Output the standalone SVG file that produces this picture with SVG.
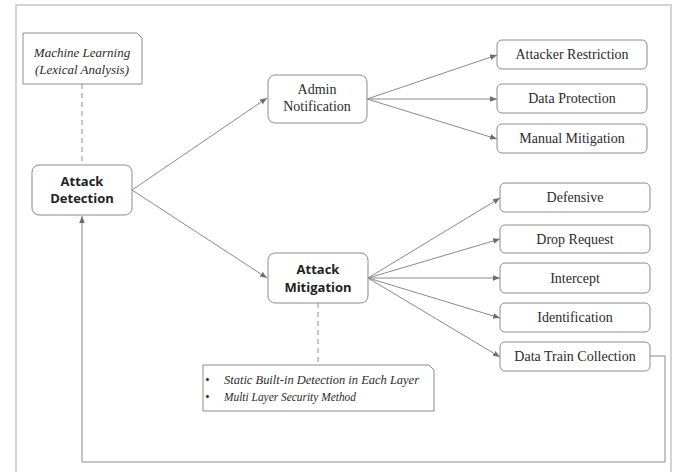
<svg xmlns="http://www.w3.org/2000/svg" width="675" height="472" viewBox="0 0 675 472">
  <style>
    .frame { fill: none; stroke: #d4d4d4; stroke-width: 2; }
    .box { fill: #ffffff; stroke: #8c8c8c; stroke-width: 1; }
    .note { fill: #ffffff; stroke: #8c8c8c; stroke-width: 1; }
    .edge { fill: none; stroke: #8a8a8a; stroke-width: 1; }
    .dash { fill: none; stroke: #8a8a8a; stroke-width: 1; stroke-dasharray: 5 4; }
    .label { font-family: 'Liberation Serif', 'Times New Roman', Times, 'DejaVu Serif', 'Noto Serif', Tinos, FreeSerif, serif; font-size: 14px; fill: #2b2b2b; text-anchor: middle; }
    .bold { font-family: 'Open Sans', 'Liberation Sans', sans-serif; font-weight: bold; font-size: 13px; fill: #222222; text-anchor: middle; }
    .ital { font-family: 'Liberation Serif', 'Times New Roman', Times, 'DejaVu Serif', 'Noto Serif', Tinos, FreeSerif, serif; font-style: italic; font-size: 13px; fill: #2b2b2b; }
  </style>
  <defs>
    <marker id="arrow" viewBox="0 0 10 10" refX="10" refY="5" markerWidth="7" markerHeight="7" orient="auto" markerUnits="userSpaceOnUse">
      <path d="M0,1 L10,5 L0,9 z" fill="#6e6e6e"/>
    </marker>
  </defs>

  <rect width="675" height="472" fill="#ffffff"/>

  <!-- outer frame -->
  <path class="frame" d="M16,480 V5 H671 V480"/>

  <!-- connectors -->
  <g id="connectors">
    <line class="dash" x1="82" y1="84" x2="82" y2="165"/>
    <line class="dash" x1="318" y1="303" x2="318" y2="365"/>
    <line class="edge" x1="132" y1="190" x2="267" y2="98" marker-end="url(#arrow)"/>
    <line class="edge" x1="132" y1="190" x2="267" y2="278" marker-end="url(#arrow)"/>
    <line class="edge" x1="367" y1="99" x2="497" y2="55" marker-end="url(#arrow)"/>
    <line class="edge" x1="367" y1="99" x2="497" y2="99" marker-end="url(#arrow)"/>
    <line class="edge" x1="367" y1="99" x2="497" y2="139" marker-end="url(#arrow)"/>
    <line class="edge" x1="368" y1="278" x2="500" y2="198" marker-end="url(#arrow)"/>
    <line class="edge" x1="368" y1="278" x2="500" y2="239" marker-end="url(#arrow)"/>
    <line class="edge" x1="368" y1="278" x2="500" y2="278" marker-end="url(#arrow)"/>
    <line class="edge" x1="368" y1="278" x2="500" y2="318" marker-end="url(#arrow)"/>
    <line class="edge" x1="368" y1="278" x2="500" y2="357" marker-end="url(#arrow)"/>
    <path class="edge" d="M650,356 H665 V462 H82 V216" marker-end="url(#arrow)"/>
  </g>

  <!-- notes -->
  <g id="note-ml">
    <path class="note" d="M23,33 H137 L142,38 V84 H23 Z"/>
    <text class="ital" font-family="Liberation Serif" x="82" y="57" text-anchor="middle">Machine Learning</text>
    <text class="ital" font-family="Liberation Serif" x="82" y="74" text-anchor="middle">(Lexical Analysis)</text>
  </g>

  <g id="note-layers">
    <path class="note" d="M203,365 H429 L434,370 V411 H203 Z"/>
    <text class="ital" x="205" y="384">•</text>
    <text class="ital" x="205" y="401">•</text>
    <text class="ital" x="224" y="384" textLength="195" lengthAdjust="spacingAndGlyphs">Static Built-in Detection in Each Layer</text>
    <text class="ital" x="224" y="401" textLength="132" lengthAdjust="spacingAndGlyphs">Multi Layer Security Method</text>
  </g>

  <!-- main nodes -->
  <g id="attack-detection">
    <rect class="box" x="32" y="165" width="100" height="50" rx="7"/>
    <text class="bold" x="82" y="186">Attack</text>
    <text class="bold" x="82" y="203">Detection</text>
  </g>

  <g id="admin-notification">
    <rect class="box" x="268" y="75" width="99" height="48" rx="7"/>
    <text class="label" x="317" y="94">Admin</text>
    <text class="label" x="317" y="111">Notification</text>
  </g>

  <g id="attack-mitigation">
    <rect class="box" x="268" y="253" width="100" height="50" rx="7"/>
    <text class="bold" x="318" y="274">Attack</text>
    <text class="bold" x="318" y="292">Mitigation</text>
  </g>

  <!-- admin notification outcomes -->
  <g id="attacker-restriction">
    <rect class="box" x="497" y="40" width="150" height="29" rx="5"/>
    <text class="label" x="572" y="59">Attacker Restriction</text>
  </g>
  <g id="data-protection">
    <rect class="box" x="497" y="84" width="150" height="29" rx="5"/>
    <text class="label" x="572" y="103">Data Protection</text>
  </g>
  <g id="manual-mitigation">
    <rect class="box" x="497" y="124" width="150" height="29" rx="5"/>
    <text class="label" x="572" y="143">Manual Mitigation</text>
  </g>

  <!-- attack mitigation outcomes -->
  <g id="defensive">
    <rect class="box" x="500" y="183" width="150" height="29" rx="5"/>
    <text class="label" x="575" y="202">Defensive</text>
  </g>
  <g id="drop-request">
    <rect class="box" x="500" y="225" width="150" height="28" rx="5"/>
    <text class="label" x="575" y="244">Drop Request</text>
  </g>
  <g id="intercept">
    <rect class="box" x="500" y="263" width="150" height="30" rx="5"/>
    <text class="label" x="575" y="283">Intercept</text>
  </g>
  <g id="identification">
    <rect class="box" x="500" y="303" width="150" height="29" rx="5"/>
    <text class="label" x="575" y="322">Identification</text>
  </g>
  <g id="data-train-collection">
    <rect class="box" x="500" y="342" width="150" height="29" rx="5"/>
    <text class="label" x="575" y="361">Data Train Collection</text>
  </g>
</svg>
